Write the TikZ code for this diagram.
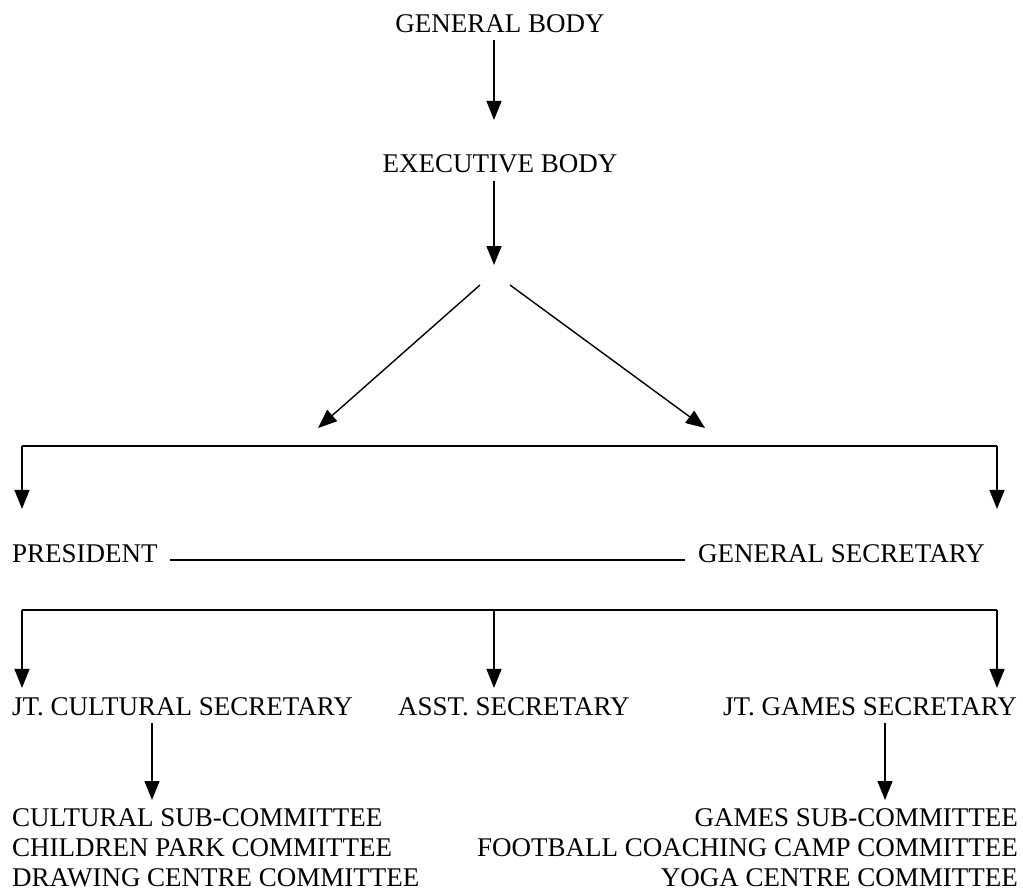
\documentclass[tikz,border=0pt]{standalone}
\usepackage{fontspec}
\setmainfont{Liberation Serif}
\usetikzlibrary{arrows.meta}

\begin{document}
\begin{tikzpicture}[x=1pt,y=-1pt,
  label/.style={inner sep=0pt,font=\fontsize{27}{30}\selectfont},
  arr/.style={-{Triangle[width=15pt,length=19pt]},line width=1.4pt},
  link/.style={line width=1.4pt}]
  \useasboundingbox (0,0) rectangle (1023,894);
  % bodies
  \node[label,anchor=base] (gb) at (500,32) {GENERAL BODY};
  \node[label,anchor=base] (eb) at (500,172) {EXECUTIVE BODY};
  \draw[arr,shorten <=8pt,shorten >=34pt] ([xshift=-6pt]gb.south) -- ([xshift=-6pt]eb.north);
  \coordinate (fork) at (494,275);
  \draw[arr,shorten <=8pt,shorten >=10pt] ([xshift=-6pt]eb.south) -- (fork);
  \coordinate (forkL) at (480,285);
  \coordinate (forkR) at (510,285);
  \coordinate (tipL) at (318,428);
  \coordinate (tipR) at (705,428);
  \draw[arr] (forkL) -- (tipL);
  \draw[arr] (forkR) -- (tipR);
  % office bearers
  \node[label,anchor=base west] (pres) at (12,562) {PRESIDENT};
  \node[label,anchor=base west] (gs) at (698,562) {GENERAL SECRETARY};
  \coordinate (barL) at (22,446);
  \coordinate (barR) at (997,446);
  \draw[link] (barL) -- (barR);
  \draw[arr,shorten >=35pt] (barL) -- (barL |- pres.north);
  \draw[arr,shorten >=35pt] (barR) -- (barR |- gs.north);
  \draw[link,shorten <=12pt,shorten >=13pt] ([yshift=2pt]pres.base east) -- ([yshift=2pt]gs.base west);
  % secretaries
  \node[label,anchor=base west] (jcs) at (12,715) {JT. CULTURAL SECRETARY};
  \node[label,anchor=base west] (as) at (398,715) {ASST. SECRETARY};
  \node[label,anchor=base west] (jgs) at (723,715) {JT. GAMES SECRETARY};
  \coordinate (rowL) at (22,610);
  \coordinate (rowM) at (494,610);
  \coordinate (rowR) at (997,610);
  \draw[link] (rowL) -- (rowR);
  \draw[arr,shorten >=9pt] (rowL) -- (rowL |- jcs.north);
  \draw[arr,shorten >=9pt] (rowM) -- (rowM |- as.north);
  \draw[arr,shorten >=9pt] (rowR) -- (rowR |- jgs.north);
  % committees
  \node[label,anchor=north west,align=left] (cul) at (12,808)
    {CULTURAL SUB-COMMITTEE\\CHILDREN PARK COMMITTEE\\DRAWING CENTRE COMMITTEE};
  \node[label,anchor=north east,align=right] (gam) at (1018,808)
    {GAMES SUB-COMMITTEE\\FOOTBALL COACHING CAMP COMMITTEE\\YOGA CENTRE COMMITTEE};
  \draw[arr,shorten <=7pt,shorten >=8pt] ([xshift=140pt]jcs.south west) -- ([xshift=140pt]cul.north west);
  \draw[arr,shorten <=7pt,shorten >=8pt] ([xshift=162pt]jgs.south west) -- ([xshift=-133pt]gam.north east);
\end{tikzpicture}
\end{document}
